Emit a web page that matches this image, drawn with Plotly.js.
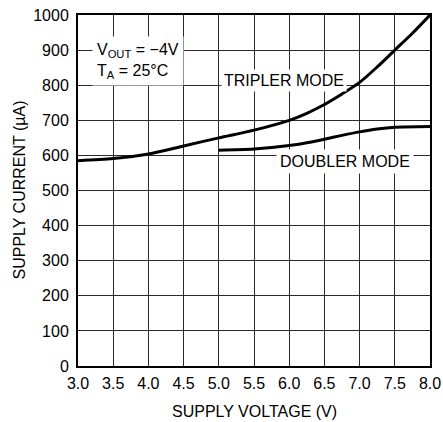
<!DOCTYPE html>
<html>
<head>
<meta charset="utf-8">
<script src="https://cdn.plot.ly/plotly-3.0.1.min.js"></script>
<style>html,body{margin:0;padding:0;background:#fff;}#chart{width:443px;height:422px;}</style>
</head>
<body>
<div id="chart"></div>
<script>
const triplerVoltage = [3.0, 3.5, 4.0, 4.5, 5.0, 5.5, 6.0, 6.25, 6.5, 6.75, 7.0, 7.25, 7.5, 7.75, 8.0];
const triplerCurrent = [585, 591, 604, 627, 650, 672, 700, 720, 745, 775, 808, 852, 900, 948, 1000];
const doublerVoltage = [5.0, 5.5, 6.0, 6.25, 6.5, 6.75, 7.0, 7.25, 7.5, 8.0];
const doublerCurrent = [615, 618, 628, 636, 646, 657, 667, 675, 680, 682];
const xTickVals = [3.0, 3.5, 4.0, 4.5, 5.0, 5.5, 6.0, 6.5, 7.0, 7.5, 8.0];
const yTickVals = [0, 100, 200, 300, 400, 500, 600, 700, 800, 900, 1000];

const FONT = '"Liberation Sans", Arial, sans-serif';
const FS = 16;

const traces = [
  {x: triplerVoltage, y: triplerCurrent, mode: 'lines', line: {color: '#000', width: 3, shape: 'spline', smoothing: 0.8}, hoverinfo: 'skip'},
  {x: doublerVoltage, y: doublerCurrent, mode: 'lines', line: {color: '#000', width: 3, shape: 'spline', smoothing: 0.8}, hoverinfo: 'skip'}
];

const layout = {
  width: 443, height: 422,
  margin: {l: 78, r: 13, t: 15, b: 56},
  paper_bgcolor: '#fff', plot_bgcolor: '#fff',
  showlegend: false,
  font: {family: FONT, size: FS, color: '#000'},
  xaxis: {
    range: [3, 8], tickvals: xTickVals, ticktext: xTickVals.map(v => v.toFixed(1)),
    showgrid: true, gridcolor: '#2a2a2a', gridwidth: 1,
    showline: true, linecolor: '#000', linewidth: 2, mirror: true,
    ticks: '', zeroline: false, fixedrange: true, ticklabelstandoff: 2,
    tickfont: {family: FONT, size: FS, color: '#000'}
  },
  yaxis: {
    range: [0, 1000], tickvals: yTickVals,
    showgrid: true, gridcolor: '#2a2a2a', gridwidth: 1,
    showline: true, linecolor: '#000', linewidth: 2, mirror: true,
    ticks: '', zeroline: false, fixedrange: true, ticklabelstandoff: 4,
    tickfont: {family: FONT, size: FS, color: '#000'}
  },
  annotations: [
    {xref: 'paper', yref: 'paper', x: (19 - 78) / 352, y: 0.5, xanchor: 'center', yanchor: 'middle',
     text: 'SUPPLY CURRENT (µA)', textangle: -90, showarrow: false, font: {family: FONT, size: FS, color: '#000'}},
    {xref: 'paper', yref: 'paper', x: 0.5, y: (366 - 411) / 351, xanchor: 'center', yanchor: 'middle',
     text: 'SUPPLY VOLTAGE (V)', showarrow: false, font: {family: FONT, size: FS, color: '#000'}},
    {xref: 'x', yref: 'y', x: 3.2, y: 940, xanchor: 'left', yanchor: 'top', align: 'left',
     text: 'V<sub>OUT</sub> = −4V<br>T<sub>A</sub> = 25°C', showarrow: false, bgcolor: '#fff', borderpad: 4,
     font: {family: FONT, size: FS, color: '#000'}},
    {xref: 'x', yref: 'y', x: 5.93, y: 812, xanchor: 'center', yanchor: 'middle',
     text: 'TRIPLER MODE', showarrow: false, bgcolor: '#fff', borderpad: 2,
     font: {family: FONT, size: FS, color: '#000'}},
    {xref: 'x', yref: 'y', x: 6.79, y: 583, xanchor: 'center', yanchor: 'middle',
     text: 'DOUBLER MODE', showarrow: false, bgcolor: '#fff', borderpad: 3,
     font: {family: FONT, size: FS, color: '#000'}}
  ]
};

Plotly.newPlot('chart', traces, layout, {displayModeBar: false, staticPlot: true});
</script>
</body>
</html>
